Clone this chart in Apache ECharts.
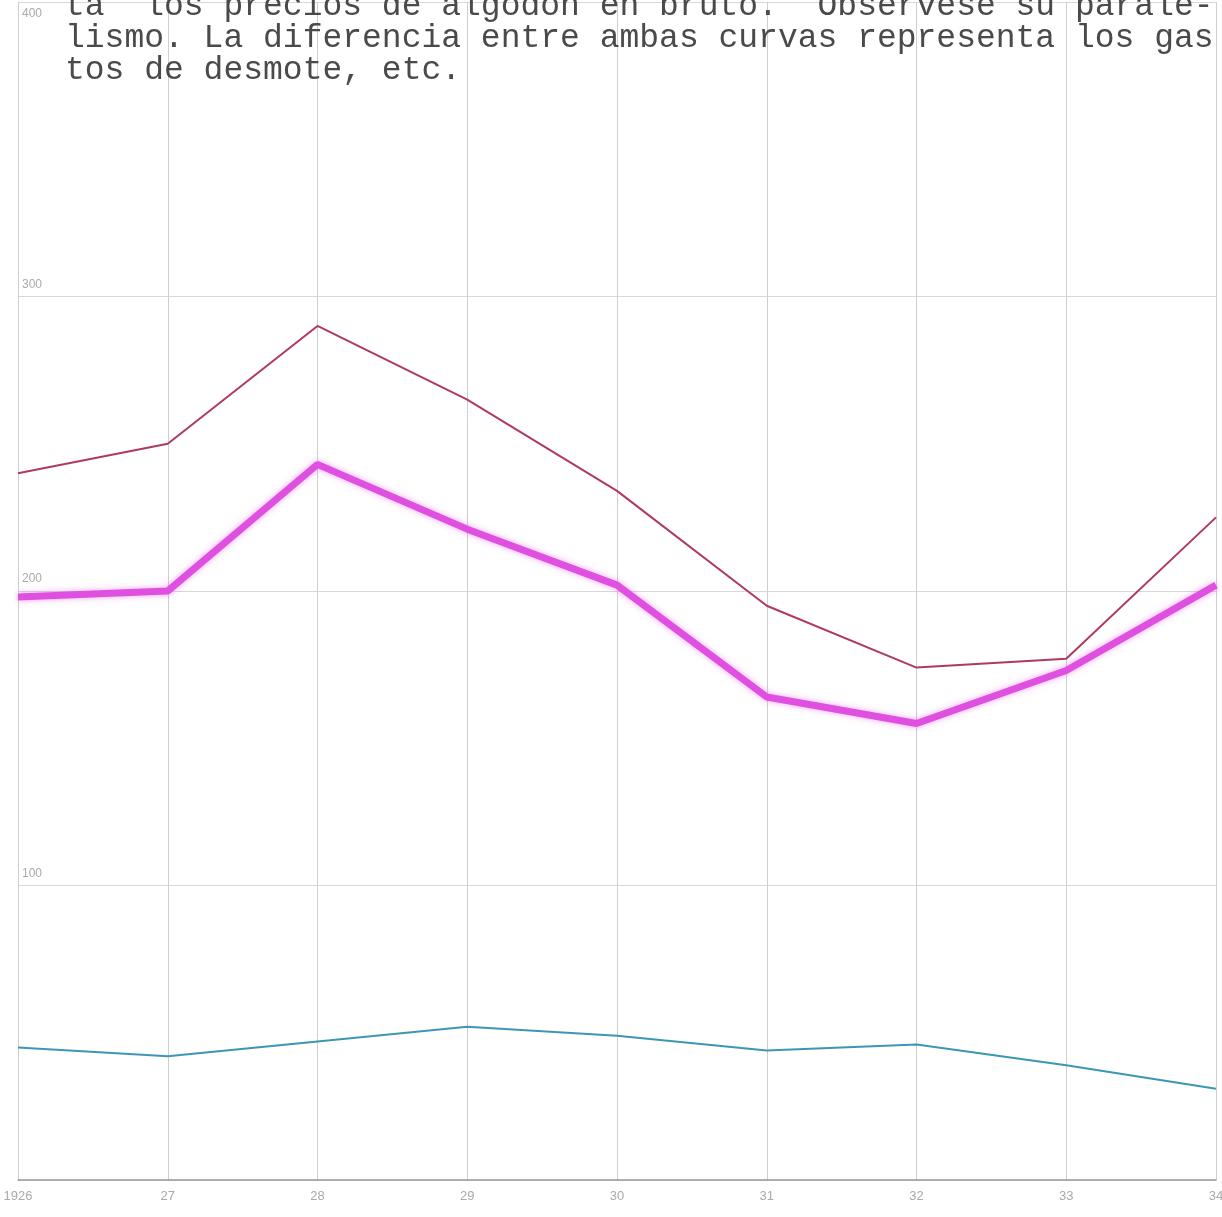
<!DOCTYPE html>
<html><head><meta charset="utf-8">
<script src="https://cdn.jsdelivr.net/npm/echarts@6/dist/echarts.min.js"></script>
<style>html,body{margin:0;padding:0;background:#fff}#c{width:1222px;height:1217px}</style>
</head><body><div id="c"></div>
<script>
const years = ['1926','27','28','29','30','31','32','33','34'];
const precioFibra = [240, 250, 290, 265, 234, 195, 174, 177, 225];
const precioBruto = [198, 200, 243, 221, 202, 164, 155, 173, 202];
const serieBaja = [45, 42, 47, 52, 49, 44, 46, 39, 31];
const yTicks = ['', '100', '200', '300', '400'];
const noteLines = [
  'ta  los precios de algodón en bruto.  Obsérvese su parale-',
  'lismo. La diferencia entre ambas curvas representa los gas',
  'tos de desmote, etc.'
];

const chart = echarts.init(document.getElementById('c'));
chart.setOption({
  backgroundColor: '#ffffff',
  animation: false,
  title: {
    text: noteLines.join('\n'),
    left: 60, top: -15,
    textStyle: { fontFamily: 'Liberation Mono', fontSize: 33, lineHeight: 32, fontWeight: 'normal', color: '#4a4a4a' }
  },
  grid: { left: 18, right: 6, top: 2, bottom: 37, outerBoundsMode: 'none', containLabel: false },
  xAxis: {
    type: 'category', data: years, boundaryGap: false,
    axisLine: { lineStyle: { color: '#999', width: 1.5 } },
    axisTick: { show: false },
    splitLine: { show: true, lineStyle: { color: '#cfcfcf', width: 1 } },
    axisLabel: { color: '#aaa', fontSize: 13, margin: 10 }
  },
  yAxis: {
    type: 'value', min: 0, max: 400, interval: 100,
    axisLine: { show: true, lineStyle: { color: '#cfcfcf' } },
    axisTick: { show: false },
    splitLine: { lineStyle: { color: '#d8d8d8', width: 1 } },
    axisLabel: {
      inside: true, verticalAlign: 'middle', color: '#aaa', fontSize: 12, margin: 4,
      showMaxLabel: true,
      formatter: function (v) {
        const t = yTicks[v / 100];
        if (!t) return '';
        return v === 400 ? '{dn|' + t + '}' : '{up|' + t + '}';
      },
      rich: {
        up: { color: '#aaa', fontSize: 12, padding: [0, 0, 24, 0] },
        dn: { color: '#aaa', fontSize: 12, padding: [24, 0, 0, 0] }
      }
    }
  },
  series: [
    { type: 'line', data: precioFibra, symbol: 'none', lineStyle: { color: '#b03a5e', width: 2 } },
    { type: 'line', data: precioBruto, symbol: 'none',
      lineStyle: { color: '#e050e0', width: 7, shadowColor: 'rgba(230,80,230,0.5)', shadowBlur: 6 } },
    { type: 'line', data: serieBaja, symbol: 'none', lineStyle: { color: '#3b97b5', width: 2 } }
  ]
});
</script></body></html>
